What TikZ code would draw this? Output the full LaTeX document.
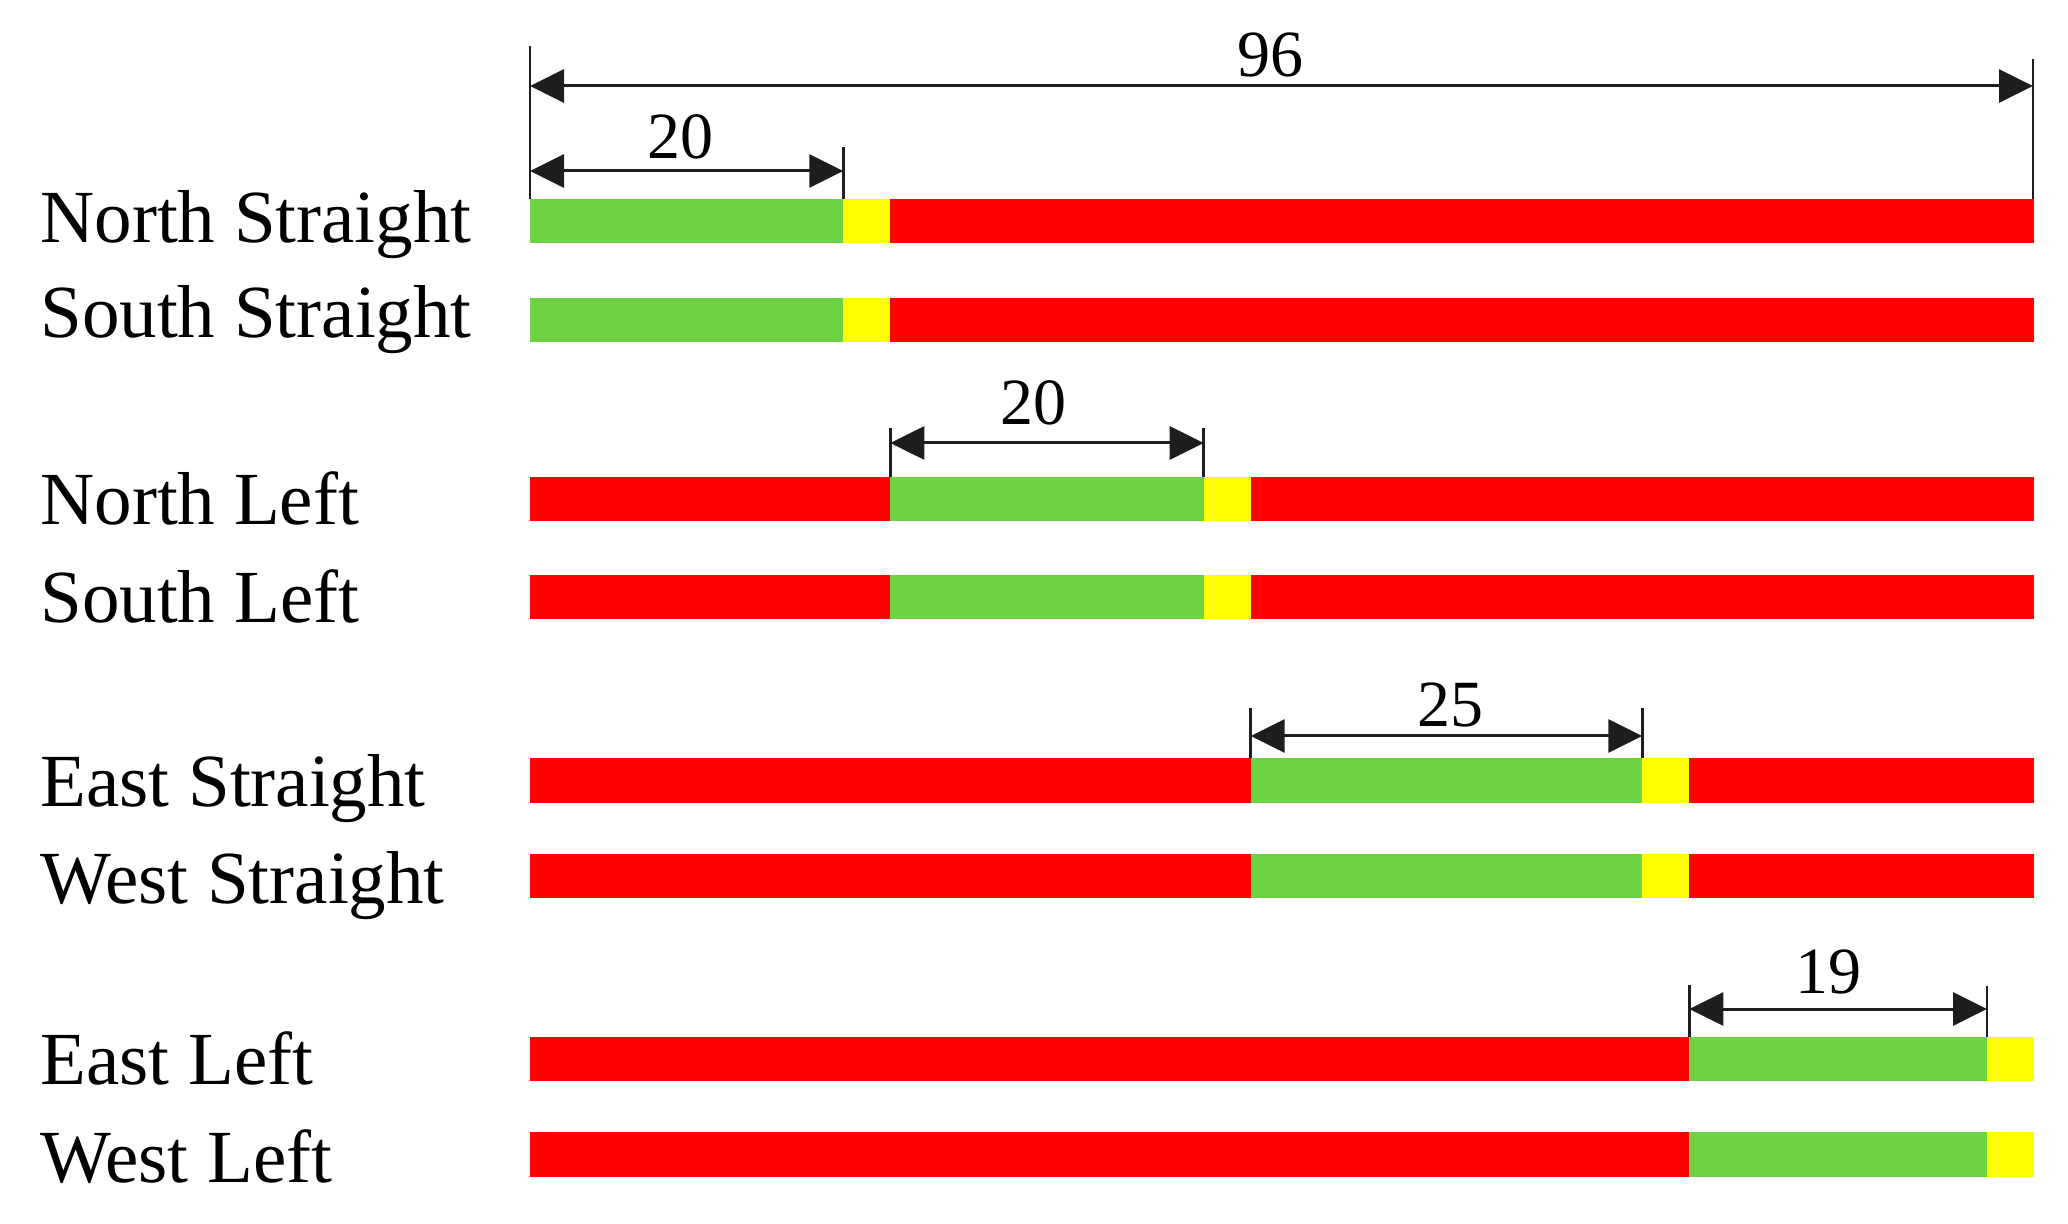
\documentclass[tikz,border=0pt]{standalone}
\usepackage{fontspec}
\setmainfont{Liberation Serif}
\usetikzlibrary{arrows.meta}
\definecolor{sgreen}{RGB}{109,211,69}
\definecolor{sred}{RGB}{255,0,0}
\definecolor{syellow}{RGB}{255,255,0}
\definecolor{dimcol}{RGB}{30,30,30}
\tikzset{
  redbar/.style={fill=sred,draw=none},
  greenbar/.style={fill=sgreen,draw=none},
  yellowbar/.style={fill=syellow,draw=none},
  rowlabel/.style={anchor=base west,inner sep=0pt,font=\fontsize{37.5}{40}\selectfont},
  dimlabel/.style={anchor=base,inner sep=0pt,font=\fontsize{33}{36}\selectfont},
  dimline/.style={draw=dimcol,line width=1.5pt,{Triangle[length=17pt,width=16.5pt]}-{Triangle[length=17pt,width=16.5pt]}},
  ticks/.style={draw=dimcol,line width=1.3pt}
}
% bar: #1 top, #2 bottom, #3 green start, #4 green end, #5 yellow end
\newcommand{\phasebar}[5]{%
  \path[redbar] (530,#1) rectangle (2034,#2);
  \path[greenbar] (#3,#1) rectangle (#4,#2);
  \path[yellowbar] (#4,#1) rectangle (#5,#2);
}
\begin{document}
\begin{tikzpicture}[x=0.5pt,y=-0.5pt]
\useasboundingbox (0,0) rectangle (2068,1224);

% bars
\phasebar{199}{243}{530}{843.3}{890.3}
\phasebar{298}{342}{530}{843.3}{890.3}
\phasebar{477}{521}{890.3}{1203.7}{1250.7}
\phasebar{575}{619}{890.3}{1203.7}{1250.7}
\phasebar{758}{803}{1250.7}{1642.3}{1689.3}
\phasebar{854}{898}{1250.7}{1642.3}{1689.3}
\phasebar{1037}{1081}{1689.3}{1987}{2034}
\phasebar{1132}{1177}{1689.3}{1987}{2034}

% row labels
\node[rowlabel] (ns) at (40,243) {North Straight};
\node[rowlabel] (ss) at (40,338) {South Straight};
\node[rowlabel] (nl) at (40,525) {North Left};
\node[rowlabel] (sl) at (40,623) {South Left};
\node[rowlabel] (es) at (40,806) {East Straight};
\node[rowlabel] (ws) at (40,903) {West Straight};
\node[rowlabel] (el) at (40,1084) {East Left};
\node[rowlabel] (wl) at (40,1182) {West Left};

% dimension ticks
\coordinate (a0t) at (530,46);   \coordinate (a0b) at (530,199);
\coordinate (a1t) at (2033,59);  \coordinate (a1b) at (2033,199);
\coordinate (b1t) at (843.3,147); \coordinate (b1b) at (843.3,199);
\coordinate (c0t) at (890.3,428); \coordinate (c0b) at (890.3,477);
\coordinate (c1t) at (1203.7,428); \coordinate (c1b) at (1203.7,477);
\coordinate (d0t) at (1250.7,708); \coordinate (d0b) at (1250.7,758);
\coordinate (d1t) at (1642.3,708); \coordinate (d1b) at (1642.3,758);
\coordinate (e0t) at (1689.3,985); \coordinate (e0b) at (1689.3,1037);
\coordinate (e1t) at (1987,986); \coordinate (e1b) at (1987,1037);
\foreach \p in {a0,a1,b1,c0,c1,d0,d1,e0,e1} \draw[ticks] (\p t) -- (\p b);

% dimension arrows
\coordinate (A0) at (530,86);    \coordinate (A1) at (2033,86);
\coordinate (B0) at (530,171);   \coordinate (B1) at (843.3,171);
\coordinate (C0) at (890.3,443); \coordinate (C1) at (1203.7,443);
\coordinate (D0) at (1250.7,736); \coordinate (D1) at (1642.3,736);
\coordinate (E0) at (1689.3,1009); \coordinate (E1) at (1987,1009);
\draw[dimline] (A0) -- (A1);
\draw[dimline] (B0) -- (B1);
\draw[dimline] (C0) -- (C1);
\draw[dimline] (D0) -- (D1);
\draw[dimline] (E0) -- (E1);

% dimension labels
\node[dimlabel] (l96) at (1270,77) {96};
\node[dimlabel] (l20a) at (680,159) {20};
\node[dimlabel] (l20b) at (1033,425) {20};
\node[dimlabel] (l25) at (1450,727) {25};
\node[dimlabel] (l19) at (1828,993) {19};
\end{tikzpicture}
\end{document}
